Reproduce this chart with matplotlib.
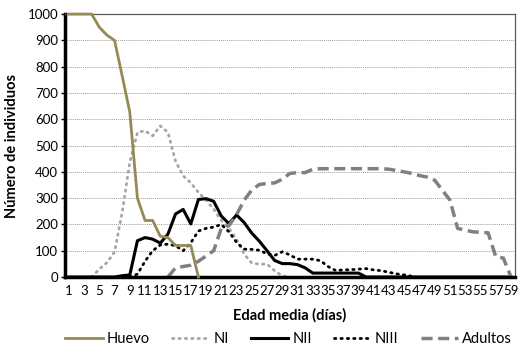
import numpy as np
import matplotlib.pyplot as plt

plt.rcParams['font.family'] = ['Lato', 'DejaVu Sans']

nan = np.nan
dias = np.arange(1, 60)

huevo = [1000, 1000, 1000, 1000, 950, 920, 900, 765, 627, 300, 215, 215, 155, 150, 120, 120, 120, 0]
ni = [nan, nan, nan, 0, 30, 55, 95, 246, 436, 550, 556, 537, 575, 550, 440, 385, 358, 322, 292,
      258, 215, 185, 144, 87, 53, 49, 49, 24, 4, 0]
nii = [0, 0, 0, 0, 0, 0, 0, 5, 8, 138, 150, 144, 129, 163, 240, 257, 202, 295, 298, 288,
       232, 203, 236, 207, 167, 136, 100, 63, 51, 51, 47, 35, 15, 15, 15, 15, 15, 15, 15,
       0, 0, 0, 0, 0, 0, 0, 0, 0, 0, 0, 0, 0, 0, 0, 0, 0, 0, 0, 0]
niii = [nan] * 8 + [0, 11, 60, 100, 122, 125, 119, 100, 130, 175, 185, 190, 200, 172, 132,
                    106, 105, 102, 88, 82, 96, 84, 68, 68, 68, 62, 40, 25, 27, 28, 30, 32,
                    27, 24, 18, 12, 8, 3]
adultos = [nan] * 13 + [0, 35, 40, 45, 60, 80, 100, 185, 195, 237, 292, 331, 352, 356, 358,
                        372, 394, 397, 397, 410, 412, 412, 412, 412, 412, 412, 412, 412, 412,
                        410, 405, 400, 394, 386, 380, 368, 330, 292, 185, 178, 172, 170, 168,
                        78, 72, 0]


def pad(v):
    v = list(v)
    return np.array(v + [nan] * (59 - len(v)), dtype=float)


fig = plt.figure(figsize=(5.2, 3.52), dpi=100)
ax = fig.add_axes([0.125, 0.213, 0.865, 0.747])

ax.plot(dias, pad(huevo), color='#948A54', lw=2.0, label='Huevo', clip_on=False, zorder=4)
ax.plot(dias, pad(ni), color='#A6A6A6', lw=2.0, ls=(0, (0.5, 1.8)),
        dash_capstyle='round', label='NI')
ax.plot(dias, pad(nii), color='black', lw=2.2, label='NII')
ax.plot(dias, pad(niii), color='black', lw=2.0, ls=(0, (0.5, 1.8)),
        dash_capstyle='round', label='NIII')
ax.plot(dias, pad(adultos), color='#808080', lw=2.5, ls=(0, (3.2, 1.6)), label='Adultos')

ax.set_xlim(0.5, 59.5)
ax.set_ylim(0, 1000)
ax.set_yticks(np.arange(0, 1001, 100))
ax.set_xticks(np.arange(1, 60, 2))
ax.tick_params(axis='x', length=0, labelsize=9.5, pad=6)
ax.tick_params(axis='y', length=3, width=1, labelsize=9.5, pad=2)
ax.grid(axis='y', color='#A0A0A0', ls=(0, (1, 1)), lw=0.7)
ax.set_axisbelow(True)

for s in ['top', 'right']:
    ax.spines[s].set_color('#595959')
    ax.spines[s].set_linewidth(0.9)
for s in ['left', 'bottom']:
    ax.spines[s].set_color('black')
    ax.spines[s].set_linewidth(2.5)

ax.set_ylabel('Número de individuos', fontsize=10.5, fontweight='bold', labelpad=6)
ax.set_xlabel('Edad media (días)', fontsize=10.5, fontweight='bold', labelpad=8)

fig.legend(loc='lower center', bbox_to_anchor=(0.555, -0.02), ncol=5, frameon=False,
           fontsize=10.5, handlelength=2.6, columnspacing=1.5, handletextpad=0.25)

fig.savefig('out.png', dpi=100)
plt.close()
